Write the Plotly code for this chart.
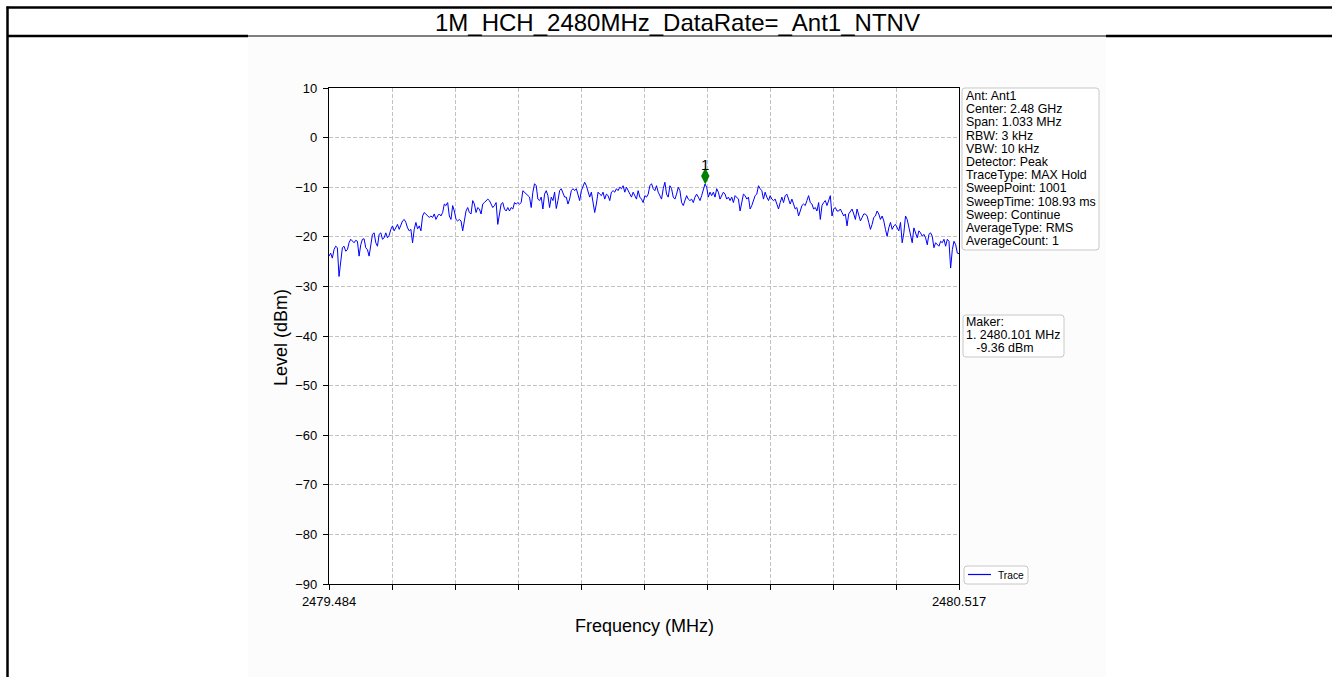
import numpy as np
import plotly.graph_objects as go

W, H = 1332, 677

# ---------------- data ----------------
title_text = "1M_HCH_2480MHz_DataRate=_Ant1_NTNV"
freq_start = 2479.484
freq_stop = 2480.517

trace_dbm = [
    # segment 1
    -23.9, -23.3, -24.3, -22.6, -21.9, -22.2, -28.0, -24.6, -22.2, -21.9, -22.9, -22.6,
    -21.2, -20.5, -20.9, -21.2, -20.7, -20.9, -23.9, -21.6, -20.5, -20.4, -22.2, -22.6,
    -23.9, -21.9, -19.5, -19.2, -21.2, -21.9, -19.5, -19.2, -20.5, -20.2, -19.2, -20.2,
    -19.7, -18.5, -17.8, -18.8, -18.2, -17.5, -18.5, -17.5, -16.8, -16.5, -17.1, -18.2,
    -18.8, -18.5, -21.2, -18.5, -17.1, -18.4, -17.8, -18.8, -15.8, -15.1, -15.4, -15.8,
    -16.1, -15.8, -16.1, -15.4, -16.5, -15.8, -15.4, -15.8, -15.1, -13.4, -13.7, -13.1,
    # segment 2
    -15.8, -16.5, -13.7, -14.8, -16.5, -16.8, -16.5, -16.8, -18.8, -16.8, -14.8, -14.1,
    -15.1, -15.4, -12.7, -13.4, -15.1, -14.1, -14.4, -15.4, -13.4, -13.1, -12.7, -12.4,
    -12.7, -13.4, -14.1, -13.7, -13.1, -17.5, -15.4, -13.4, -13.1, -14.4, -14.8, -14.1,
    -14.8, -14.1, -14.4, -13.1, -13.4, -13.1, -13.4, -13.1, -10.7, -11.0, -11.4, -11.7,
    -12.0, -14.1, -11.0, -9.3, -9.7, -12.4, -12.7, -12.0, -14.4, -11.4, -10.7, -11.7,
    -14.1, -12.0, -12.7, -11.0, -14.3, -12.7, -10.7, -10.3, -11.4, -12.0, -12.0, -13.4,
    -12.4, -10.7, -10.3,
    # segment 3
    -10.7, -10.3, -11.4, -12.7, -10.7, -9.7, -9.0, -9.7, -11.0, -12.0, -11.0, -13.1,
    -15.1, -13.4, -11.0, -11.4, -11.7, -11.0, -12.4, -11.4, -11.7, -12.7, -11.0, -10.7,
    -11.0, -10.3, -10.7, -10.0, -10.3, -9.7, -11.0, -10.0, -10.7, -11.4, -12.0, -11.0,
    -11.7, -12.4, -10.7, -12.0, -12.4, -13.1, -11.7, -12.0, -11.4, -9.7, -9.3, -10.3,
    -10.7, -9.7, -11.0, -11.7, -12.4, -10.3, -9.0, -11.4, -12.0, -9.7, -10.3, -12.0,
    -12.4, -11.4, -10.0, -10.7, -13.1, -13.7, -12.4, -11.7, -12.4, -12.7, -12.4, -13.1,
    -12.0, -11.4, -12.0,
    # segment 4
    -12.7, -11.7, -10.3, -9.36, -10.0, -12.0, -11.0, -11.7, -11.0, -12.0, -10.3, -11.0,
    -12.4, -11.7, -11.0, -11.4, -12.4, -12.0, -12.7, -12.0, -13.1, -11.7, -12.0, -12.4,
    -14.8, -12.7, -11.4, -11.7, -12.4, -12.0, -14.4, -13.7, -12.4, -11.7, -11.4, -9.7,
    -10.3, -10.7, -12.4, -11.0, -12.0, -12.7, -11.7, -12.4, -12.7, -12.4, -13.4, -14.4,
    -13.1, -12.0, -13.1, -11.7, -11.4, -12.4, -13.4, -12.4, -13.4, -14.4, -14.1, -15.8,
    -14.8, -13.7, -13.4, -13.7, -12.7, -11.7, -13.1, -13.4, -14.4, -14.1, -14.8, -13.1,
    -16.5, -13.7, -13.1,
    # segment 5
    -12.7, -13.7, -12.7, -11.7, -15.8, -14.4, -14.1, -14.8, -14.8, -14.4, -15.1, -15.8,
    -15.4, -17.8, -15.4, -14.8, -14.4, -15.4, -16.5, -14.4, -15.8, -16.8, -16.1, -15.4,
    -15.4, -15.8, -17.1, -18.5, -17.5, -16.1, -15.8, -14.8, -15.4, -16.5, -15.8, -16.8,
    -18.5, -19.9, -18.2, -17.1, -18.5, -17.8, -17.5, -18.2, -18.8, -17.1, -21.2, -19.2,
    -15.8, -16.5, -18.2, -19.2, -21.2, -18.2, -19.2, -20.2, -18.8, -19.2, -19.9, -19.5,
    -20.2, -21.6, -19.5, -19.2, -19.9, -22.2, -21.2, -21.6, -21.9, -20.9, -21.2, -20.5,
    -21.9, -20.5, -20.9, -26.3, -22.6, -20.9, -21.6, -23.3, -23.4,
]

marker_freq = 2480.101
marker_level = -9.36
marker_label = "1"

x_tick_labels = ["2479.484", "", "", "", "", "", "", "", "", "", "2480.517"]
y_tick_values = [10, 0, -10, -20, -30, -40, -50, -60, -70, -80, -90]

info_lines = [
    "Ant: Ant1",
    "Center: 2.48 GHz",
    "Span: 1.033 MHz",
    "RBW: 3 kHz",
    "VBW: 10 kHz",
    "Detector: Peak",
    "TraceType: MAX Hold",
    "SweepPoint: 1001",
    "SweepTime: 108.93 ms",
    "Sweep: Continue",
    "AverageType: RMS",
    "AverageCount: 1",
]
maker_lines = ["Maker:", "1. 2480.101 MHz", "   -9.36 dBm"]
legend_name = "Trace"

# ---------------- helpers ----------------
def px(x):
    return x / W


def py(y):
    return 1 - y / H


FONT = "Arial, 'Liberation Sans', Helvetica, sans-serif"

freqs = np.linspace(freq_start, freq_stop, len(trace_dbm))
x_ticks = np.linspace(freq_start, freq_stop, len(x_tick_labels))

fig = go.Figure()
fig.add_trace(go.Scatter(
    x=freqs, y=trace_dbm, mode="lines",
    line=dict(color="#0000ff", width=1), name=legend_name,
    showlegend=False, hoverinfo="skip",
))
fig.add_trace(go.Scatter(
    x=[marker_freq], y=[marker_level + 1.6], mode="markers",
    marker=dict(symbol="diamond-tall", color="#008000", size=12,
                line=dict(color="#008000", width=0)),
    showlegend=False, hoverinfo="skip",
))

shapes = []
# matplotlib-figure background region
shapes.append(dict(type="rect", xref="paper", yref="paper",
                   x0=px(248), x1=px(1106), y0=py(680), y1=py(37),
                   fillcolor="#fcfcfc", line=dict(width=0), layer="below"))
# plot area background (white)
shapes.append(dict(type="rect", xref="paper", yref="paper",
                   x0=px(329), x1=px(959), y0=py(584), y1=py(88),
                   fillcolor="white", line=dict(width=0), layer="below"))
# outer table frame
shapes.append(dict(type="line", xref="paper", yref="paper",
                   x0=px(6.5), x1=px(1340), y0=py(7.5), y1=py(7.5),
                   line=dict(color="black", width=2.5)))
shapes.append(dict(type="line", xref="paper", yref="paper",
                   x0=px(7.5), x1=px(7.5), y0=py(6.5), y1=py(690),
                   line=dict(color="black", width=2.5)))
shapes.append(dict(type="line", xref="paper", yref="paper",
                   x0=px(7), x1=px(248), y0=py(36), y1=py(36),
                   line=dict(color="black", width=2.5)))
shapes.append(dict(type="line", xref="paper", yref="paper",
                   x0=px(248), x1=px(1106), y0=py(36), y1=py(36),
                   line=dict(color="black", width=1.2)))
shapes.append(dict(type="line", xref="paper", yref="paper",
                   x0=px(1106), x1=px(1340), y0=py(36), y1=py(36),
                   line=dict(color="black", width=2.5)))


def rounded_box(x0, y0, x1, y1, r=3):
    rx, ry = r / W, r / H
    X0, X1, Y0, Y1 = px(x0), px(x1), py(y1), py(y0)  # Y0 bottom, Y1 top
    path = (f"M {X0+rx},{Y1} L {X1-rx},{Y1} Q {X1},{Y1} {X1},{Y1-ry} "
            f"L {X1},{Y0+ry} Q {X1},{Y0} {X1-rx},{Y0} "
            f"L {X0+rx},{Y0} Q {X0},{Y0} {X0},{Y0+ry} "
            f"L {X0},{Y1-ry} Q {X0},{Y1} {X0+rx},{Y1} Z")
    return dict(type="path", xref="paper", yref="paper", path=path,
                fillcolor="white", line=dict(color="#c8c8c8", width=1))


shapes.append(rounded_box(962, 88, 1099, 250))
shapes.append(rounded_box(963, 315, 1064, 357))
shapes.append(rounded_box(964, 566, 1028, 584))
# legend sample line
shapes.append(dict(type="line", xref="paper", yref="paper",
                   x0=px(968), x1=px(991), y0=py(574.5), y1=py(574.5),
                   line=dict(color="#0000ff", width=1.2)))

annotations = []
annotations.append(dict(text=title_text, x=px(677.5), y=py(22), xref="paper", yref="paper",
                        showarrow=False, xanchor="center", yanchor="middle",
                        font=dict(family=FONT, size=24, color="black")))
for k, line in enumerate(info_lines):
    annotations.append(dict(text=line, x=px(964), y=py(96 + 13.2 * k),
                            xref="paper", yref="paper", showarrow=False,
                            xanchor="left", yanchor="middle",
                            font=dict(family=FONT, size=12.4, color="black")))
for k, line in enumerate(maker_lines):
    annotations.append(dict(text=line.replace(" ", "&nbsp;"), x=px(964), y=py(322 + 13.2 * k),
                            xref="paper", yref="paper", showarrow=False,
                            xanchor="left", yanchor="middle",
                            font=dict(family=FONT, size=12.4, color="black")))
annotations.append(dict(text=legend_name, x=px(995.5), y=py(575), xref="paper", yref="paper",
                        showarrow=False, xanchor="left", yanchor="middle",
                        font=dict(family=FONT, size=10.2, color="black")))
annotations.append(dict(text="Frequency (MHz)", x=px(644), y=py(626), xref="paper", yref="paper",
                        showarrow=False, xanchor="center", yanchor="middle",
                        font=dict(family=FONT, size=18, color="black")))
annotations.append(dict(text="Level (dBm)", x=px(281), y=py(338), xref="paper", yref="paper",
                        showarrow=False, xanchor="center", yanchor="middle", textangle=-90,
                        font=dict(family=FONT, size=18, color="black")))
# marker number above the diamond
annotations.append(dict(text=marker_label, x=marker_freq, y=marker_level + 1.6,
                        xref="x", yref="y", showarrow=False,
                        xanchor="center", yanchor="middle", yshift=12,
                        font=dict(family=FONT, size=15, color="black")))

fig.update_layout(
    template="none",
    width=W, height=H,
    autosize=False,
    margin=dict(l=0, r=0, t=0, b=0, pad=0, autoexpand=False),
    paper_bgcolor="white",
    plot_bgcolor="rgba(0,0,0,0)",
    shapes=shapes,
    annotations=annotations,
    showlegend=False,
    font=dict(family=FONT, color="black"),
    xaxis=dict(
        domain=[px(329), px(959)],
        range=[freq_start, freq_stop],
        automargin=False,
        tickmode="array", tickvals=list(x_ticks), ticktext=x_tick_labels,
        ticks="outside", ticklen=5, tickwidth=1, tickcolor="black",
        tickfont=dict(family=FONT, size=13, color="black"),
        showline=True, linecolor="black", linewidth=1.2, mirror=True,
        showgrid=True, gridcolor="#b4b4b4", gridwidth=0.8, griddash="4px,2px",
        zeroline=False,
    ),
    yaxis=dict(
        domain=[py(584), py(88)],
        range=[-90, 10],
        automargin=False,
        tickmode="array", tickvals=y_tick_values,
        ticks="outside", ticklen=5, tickwidth=1, tickcolor="black",
        tickfont=dict(family=FONT, size=13, color="black"),
        ticklabelstandoff=3,
        showline=True, linecolor="black", linewidth=1.2, mirror=True,
        showgrid=True, gridcolor="#b4b4b4", gridwidth=0.8, griddash="4px,2px",
        zeroline=False,
    ),
)

fig.write_html(
    "out.html",
    config={"responsive": False, "displayModeBar": False, "staticPlot": True},
    post_script="document.body.style.margin='0';document.body.style.overflow='hidden';",
)
